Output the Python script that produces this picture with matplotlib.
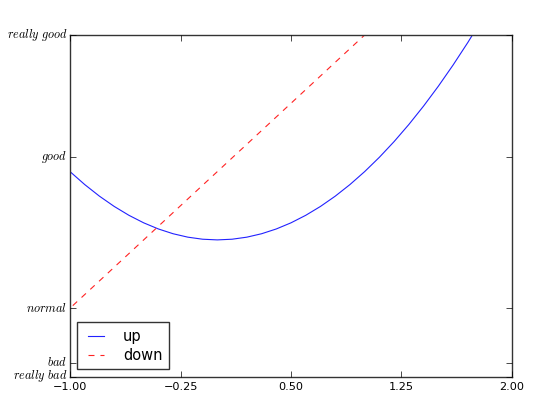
import matplotlib
matplotlib.use("Agg")
import matplotlib.pyplot as plt

plt.style.use('classic')
plt.rcParams['lines.scale_dashes'] = False

# data
up_x = [-1.1, -1.0, -0.9, -0.8, -0.7, -0.6, -0.5, -0.4, -0.3, -0.2, -0.1, 0.0,
        0.1, 0.2, 0.3, 0.4, 0.5, 0.6, 0.7, 0.8, 0.9, 1.0, 1.1, 1.2, 1.3, 1.4,
        1.5, 1.6, 1.7, 1.8, 1.9]
up_y = [1.21, 1.0, 0.81, 0.64, 0.49, 0.36, 0.25, 0.16, 0.09, 0.04, 0.01, 0.0,
        0.01, 0.04, 0.09, 0.16, 0.25, 0.36, 0.49, 0.64, 0.81, 1.0, 1.21, 1.44,
        1.69, 1.96, 2.25, 2.56, 2.89, 3.24, 3.61]
down_x = [-1.1, 1.1]
down_y = [-1.2, 3.2]

xticks = [-1.0, -0.25, 0.5, 1.25, 2.0]
xtick_labels = ['\u22121.00', '\u22120.25', '0.50', '1.25', '2.00']
yticks = [-2, -1.8, -1, 1.22, 3]
ytick_labels = [r'$really\ bad$', r'$bad$', r'$normal$', r'$good$', r'$really\ good$']

fig = plt.figure(figsize=(5.45, 4.07), dpi=100, facecolor='white')
ax = fig.add_axes([70/545, 1 - 376.5/407, (512-70)/545, (376.5-35)/407])
ax.set_facecolor('white')

l1, = ax.plot(up_x, up_y, color='#2222ff', linewidth=0.8, label='up')
l2, = ax.plot(down_x, down_y, color='#ff2222', linewidth=0.8, linestyle='--',
              dashes=(4.3, 4.3), label='down')

ax.set_xlim(-1, 2)
ax.set_ylim(-2, 3)
ax.set_xticks(xticks)
ax.set_xticklabels(xtick_labels, fontsize=8.1)
ax.set_yticks(yticks)
ax.set_yticklabels(ytick_labels, fontsize=8.8)
ax.tick_params(direction='in', length=4, top=True, right=True)
ax.tick_params(axis='x', pad=4)
ax.tick_params(axis='y', pad=2)
for s in ax.spines.values():
    s.set_color('#333333')

leg = ax.legend(handles=[l1, l2], loc='lower left', fontsize=10.5,
                fancybox=False, shadow=False, frameon=True,
                handlelength=1.7, handletextpad=1.0, labelspacing=0.25,
                borderpad=0.45, borderaxespad=0.5)
leg.get_frame().set_edgecolor('#333333')

fig.savefig('out.png', dpi=100, facecolor='white')
